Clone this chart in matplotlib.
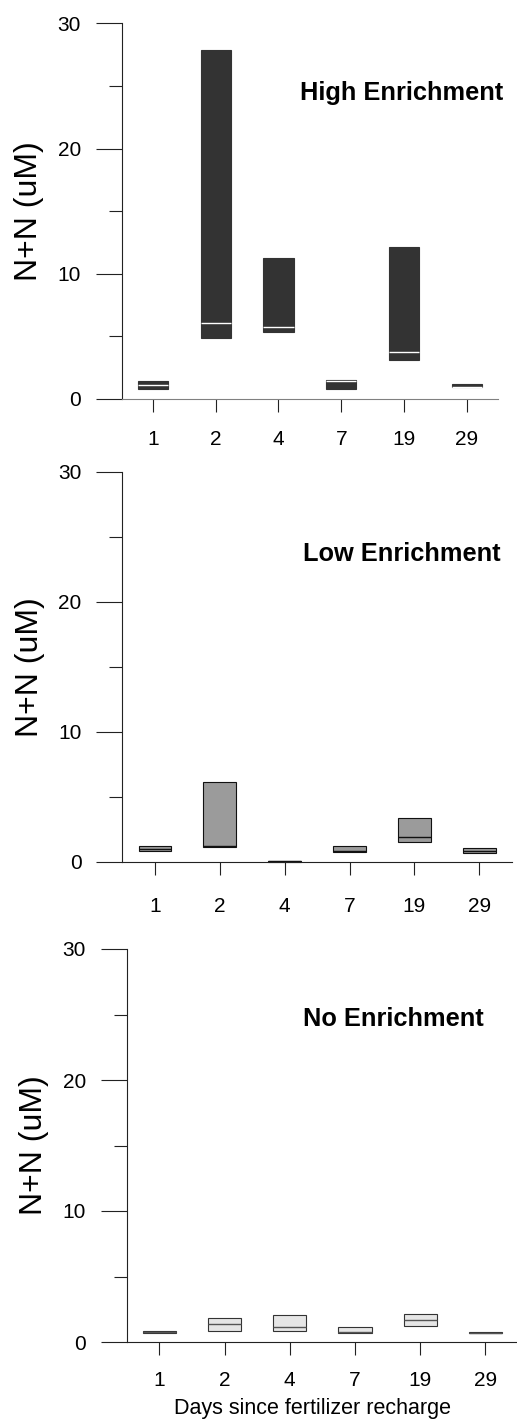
import matplotlib.pyplot as plt

plt.rcParams['font.family'] = ['Liberation Sans', 'DejaVu Sans']

# days since fertilizer recharge (categorical x)
days = ['1', '2', '4', '7', '19', '29']

# box stats per treatment: lower quartile, median, upper quartile (uM)
high_q1 = [0.80, 4.90, 5.35, 0.82, 3.14, 0.96]
high_med = [1.15, 6.10, 5.72, 1.40, 3.75, 0.98]
high_q3 = [1.42, 27.87, 11.26, 1.52, 12.16, 1.22]

low_q1 = [0.82, 1.15, 0.00, 0.77, 1.48, 0.69]
low_med = [1.00, 1.20, 0.03, 0.80, 1.92, 0.85]
low_q3 = [1.20, 6.12, 0.05, 1.20, 3.35, 1.02]

none_q1 = [0.67, 0.87, 0.81, 0.69, 1.20, 0.66]
none_med = [0.75, 1.37, 1.15, 0.74, 1.70, 0.72]
none_q3 = [0.84, 1.86, 2.06, 1.12, 2.11, 0.79]

W, H = 517, 1420
fig = plt.figure(figsize=(W / 100, H / 100), dpi=100)


def px_axes(left, right, top, bottom):
    return fig.add_axes([left / W, 1 - bottom / H, (right - left) / W, (bottom - top) / H])


panels = [
    # name, q1, med, q3, box face, box edge, median colour, width, axes px, xlabel pad, bottom spine colour, title pos
    ('High Enrichment', high_q1, high_med, high_q3, '#333333', '#333333', 'white', 0.48,
     (121.7, 498, 23.3, 399), 13.0, '#808080', (300, 100)),
    ('Low Enrichment', low_q1, low_med, low_q3, '#9b9b9b', '#111111', '#111111', 0.5,
     (122.3, 511.8, 471.7, 861.7), 16.0, '#222222', (303, 561)),
    ('No Enrichment', none_q1, none_med, none_q3, '#e6e6e6', '#333333', '#555555', 0.51,
     (126.7, 518, 949, 1342), 11.5, '#222222', (303, 1026)),
]

for name, q1, med, q3, face, edge, medc, w, box, xpad, bcol, tpos in panels:
    ax = px_axes(*box)
    stats = [dict(q1=a, med=m, q3=b, whislo=a, whishi=b, label=d)
             for a, m, b, d in zip(q1, med, q3, days)]
    pos = list(range(1, len(days) + 1))
    bp = ax.bxp(stats, positions=pos, widths=w, patch_artist=True,
                showfliers=False, showcaps=False,
                boxprops=dict(facecolor=face, edgecolor=edge, linewidth=0.8),
                medianprops=dict(color=medc, linewidth=1.0),
                whiskerprops=dict(linewidth=0))
    for item in bp['boxes'] + bp['medians']:
        item.set_clip_on(False)

    ax.set_xlim(0.5, len(days) + 0.5)
    ax.set_ylim(0, 30)
    ax.set_xticks(pos)
    ax.set_xticklabels(days)
    ax.set_yticks([0, 10, 20, 30])
    ax.set_yticks([5, 15, 25], minor=True)

    for s in ['top', 'right']:
        ax.spines[s].set_visible(False)
    ax.spines['left'].set_color('#222222')
    ax.spines['bottom'].set_color(bcol)
    ax.spines['left'].set_linewidth(0.8)
    ax.spines['bottom'].set_linewidth(0.8)

    ax.tick_params(axis='y', which='major', length=18.8, width=0.8, color='#222222',
                   labelsize=15, pad=10.5)
    ax.tick_params(axis='y', which='minor', length=9.5, width=0.8, color='#222222')
    ax.tick_params(axis='x', which='major', length=9.4, width=0.8, color='#222222',
                   labelsize=15, pad=xpad)

    # y label, centred on the axes
    fig.text((box[0] - 92.5) / W, 1 - (box[2] + box[3]) / 2 / H, 'N+N (uM)',
             rotation=90, ha='center', va='center', fontsize=23)

    fig.text(tpos[0] / W, 1 - tpos[1] / H, name, ha='left', va='baseline',
             fontsize=18.3, fontweight='bold')

fig.text(312 / W, 1 - 1414 / H, 'Days since fertilizer recharge', ha='center',
         va='baseline', fontsize=15.5)

fig.savefig('out.png', dpi=100)
